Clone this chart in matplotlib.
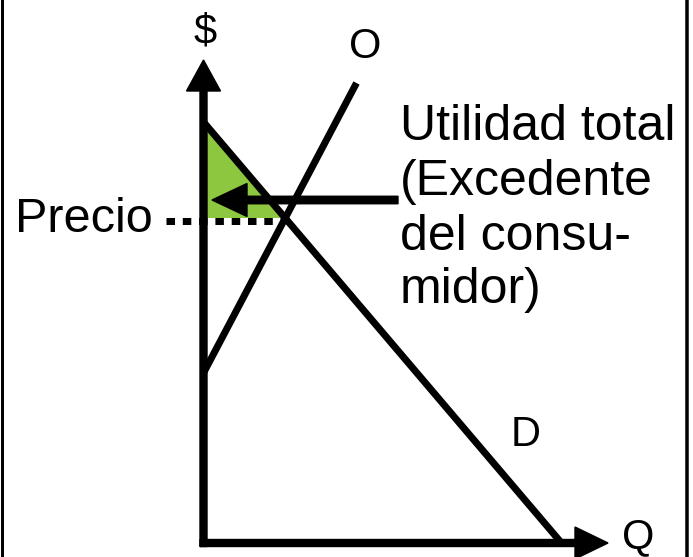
import matplotlib
matplotlib.use("Agg")
import matplotlib.pyplot as plt
import numpy as np
from matplotlib.patches import Polygon

plt.rcParams['font.family'] = ['Liberation Sans', 'DejaVu Sans']
plt.rcParams['lines.scale_dashes'] = False

# ---- diagram data (units: pixels measured from the axes origin) ----
demand_q = [0, 358]
demand_p = [421, 0]
supply_q = [0, 153]
supply_p = [170, 460]
price = 322
price_line_q = [-38, 80]
surplus_arrow_q = [194.5, 8.5]
surplus_arrow_p = 343
axis_q_max = 404.5
axis_p_max = 483

curve_labels = ["O", "D"]
axis_labels = ["$", "Q"]
price_label = "Precio"
surplus_lines = ["Utilidad total", "(Excedente", "del consu-", "midor)"]

GREEN = '#8dc63f'
PX = 0.72  # points per pixel at 100 dpi

fig = plt.figure(figsize=(6.93, 5.57), dpi=100)
ax = fig.add_axes([0, 0, 1, 1])
ax.set_xlim(-203.5, 489.5)
ax.set_ylim(-14, 543)
ax.axis('off')

# consumer surplus triangle
q_cut = np.interp(price + 3.5, demand_p[::-1], demand_q[::-1])
tri = Polygon([[0, demand_p[0]], [0, price + 3.5], [q_cut, price + 3.5]],
              closed=True, facecolor=GREEN, edgecolor='none', zorder=1)
ax.add_patch(tri)

# price dotted line
ax.plot(price_line_q, [price, price], color='black', lw=7 * PX,
        linestyle=(0, (8.5 * PX, 7.8 * PX)), solid_capstyle='butt',
        dash_capstyle='butt', zorder=2)

# demand and supply
ax.plot(demand_q, demand_p, color='black', lw=7 * PX, solid_capstyle='butt', zorder=3)
ax.plot(supply_q, supply_p, color='black', lw=7 * PX, solid_capstyle='butt', zorder=3)

# axes with arrowheads
ax.arrow(0, -3.5, 0, axis_p_max + 3.5, width=7, head_width=34, head_length=31,
         length_includes_head=True, color='black', zorder=4)
ax.arrow(-3.5, 0, axis_q_max + 3.5, 0, width=7, head_width=32, head_length=33,
         length_includes_head=True, color='black', zorder=4)

# surplus arrow
ax.arrow(surplus_arrow_q[0], surplus_arrow_p, surplus_arrow_q[1] - surplus_arrow_q[0], 0,
         width=7.5, head_width=33, head_length=35, length_includes_head=True,
         color='black', zorder=5)

# labels
ax.text(1.5, 510, axis_labels[0], fontsize=30, ha='center', va='center')
ax.text(434.5, -5, axis_labels[1], fontsize=30, ha='center', va='baseline')
ax.text(162, 495.5, curve_labels[0], fontsize=30, ha='center', va='center')
ax.text(322.5, 108, curve_labels[1], fontsize=30, ha='center', va='center')
ax.text(-188.5, 311, price_label, fontsize=35, ha='left', va='baseline')
for i, (line, base) in enumerate(zip(surplus_lines, [403, 348, 293, 240])):
    ax.text(196, base, line, fontsize=36, ha='left', va='baseline')

# frame side lines
ax.plot([-202, -202], [-14, 543], color='black', lw=3 * PX)
ax.plot([483.5, 483.5], [-14, 543], color='black', lw=3.5 * PX)

fig.savefig('out.png', dpi=100)
